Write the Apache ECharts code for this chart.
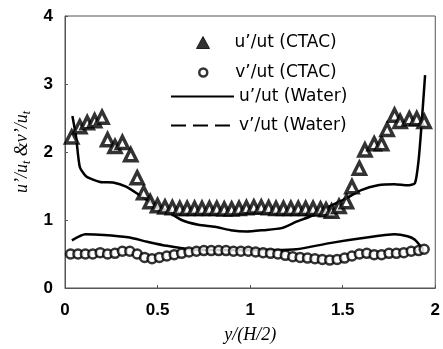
<!DOCTYPE html>
<html>
<head>
<meta charset="utf-8">
<script src="https://cdn.jsdelivr.net/npm/echarts@6/dist/echarts.min.js"></script>
<style>
  html, body { margin: 0; padding: 0; background: #fff; }
  #chart { width: 443px; height: 349px; }
</style>
</head>
<body>
<div id="chart"></div>
<script>
// u'/ut (CTAC) - triangles
const uCtacX = [0.036, 0.08, 0.12, 0.16, 0.20, 0.23, 0.27, 0.31, 0.355, 0.39, 0.425, 0.46,
  0.50, 0.54, 0.58, 0.62, 0.66, 0.70, 0.74, 0.78, 0.82, 0.86, 0.90, 0.94, 0.98, 1.02,
  1.06, 1.10, 1.14, 1.18, 1.22, 1.26, 1.30, 1.34, 1.38, 1.41, 1.44, 1.48, 1.52, 1.55,
  1.59, 1.62, 1.67, 1.71, 1.74, 1.78, 1.81, 1.86, 1.90, 1.94];
const uCtacY = [2.22, 2.37, 2.43, 2.46, 2.51, 2.18, 2.08, 2.14, 1.96, 1.62, 1.40, 1.27,
  1.21, 1.19, 1.18, 1.17, 1.17, 1.17, 1.17, 1.17, 1.17, 1.16, 1.16, 1.17, 1.18, 1.19,
  1.19, 1.18, 1.17, 1.17, 1.17, 1.17, 1.17, 1.17, 1.16, 1.15, 1.13, 1.20, 1.27, 1.49,
  1.76, 2.03, 2.12, 2.12, 2.33, 2.54, 2.45, 2.49, 2.49, 2.45];

// v'/ut (CTAC) - circles
const vCtacX = [0.03, 0.07, 0.11, 0.15, 0.19, 0.23, 0.27, 0.31, 0.35, 0.39, 0.43, 0.47,
  0.51, 0.55, 0.59, 0.63, 0.67, 0.71, 0.75, 0.79, 0.83, 0.87, 0.91, 0.95, 0.99, 1.03,
  1.07, 1.11, 1.15, 1.19, 1.23, 1.27, 1.31, 1.35, 1.39, 1.43, 1.47, 1.51, 1.55, 1.59,
  1.63, 1.67, 1.71, 1.75, 1.79, 1.83, 1.87, 1.91, 1.94];
const vCtacY = [0.50, 0.50, 0.50, 0.50, 0.52, 0.50, 0.51, 0.54, 0.54, 0.50, 0.45, 0.43,
  0.45, 0.47, 0.49, 0.51, 0.53, 0.54, 0.55, 0.55, 0.55, 0.55, 0.54, 0.54, 0.54, 0.53,
  0.52, 0.51, 0.50, 0.48, 0.46, 0.45, 0.44, 0.43, 0.42, 0.41, 0.42, 0.44, 0.47, 0.50,
  0.51, 0.49, 0.49, 0.51, 0.51, 0.52, 0.54, 0.55, 0.57];

// u'/ut (Water) - solid line
const uWaterX = [0.04, 0.06, 0.08, 0.115, 0.19, 0.26, 0.33, 0.40, 0.47, 0.54, 0.63, 0.72,
  0.81, 0.895, 0.98, 1.07, 1.17, 1.25, 1.34, 1.43, 1.52, 1.60, 1.69, 1.78, 1.85, 1.89,
  1.91, 1.925, 1.945];
const uWaterY = [2.53, 2.22, 1.78, 1.64, 1.56, 1.55, 1.49, 1.37, 1.25, 1.15, 1.00, 0.93,
  0.90, 0.85, 0.83, 0.85, 0.88, 0.975, 1.07, 1.20, 1.32, 1.44, 1.51, 1.525, 1.51, 1.54,
  1.88, 2.37, 3.13];

// v'/ut (Water) - line
const vWaterX = [0.037, 0.11, 0.21, 0.34, 0.445, 0.55, 0.68, 0.81, 0.98, 1.13, 1.25,
  1.43, 1.60, 1.78, 1.85, 1.89, 1.93];
const vWaterY = [0.70, 0.79, 0.78, 0.745, 0.68, 0.62, 0.57, 0.56, 0.56, 0.56, 0.57,
  0.66, 0.73, 0.79, 0.76, 0.71, 0.58];

const xTicks = ["0", "0.5", "1", "1.5", "2"];

const pairs = (xs, ys) => xs.map((x, i) => [x, ys[i]]);

const chart = echarts.init(document.getElementById("chart"));

const legendText = {
  fontFamily: "DejaVu Sans",
  fontSize: 17,
  color: "#000",
};

const option = {
  animation: false,
  grid: {
    left: 65,
    right: 2,
    top: 16,
    bottom: 61,
    show: true,
    borderColor: "#555",
    borderWidth: 1,
  },
  legend: [
    {
      data: [{ name: "u’/ut (CTAC)", itemStyle: { color: "#000", borderWidth: 1 } }],
      left: 191,
      top: 29,
      itemWidth: 13,
      itemHeight: 12,
      textStyle: Object.assign({ padding: [0, 0, 0, 20] }, legendText),
    },
    {
      data: [{ name: "v’/ut (CTAC)", itemStyle: { borderWidth: 2.5 } }],
      left: 193,
      top: 59,
      itemWidth: 8,
      itemHeight: 8,
      textStyle: Object.assign({ padding: [0, 0, 0, 23] }, legendText),
    },
    {
      data: [{ name: "u’/ut (Water)", itemStyle: { opacity: 0 } }],
      left: 165,
      top: 83,
      itemWidth: 63,
      itemHeight: 14,
      textStyle: legendText,
    },
    {
      data: [{
        name: "v’/ut (Water)",
        itemStyle: { opacity: 0 },
        lineStyle: { type: [15, 7] },
      }],
      left: 165,
      top: 112,
      itemWidth: 63,
      itemHeight: 14,
      textStyle: legendText,
    },
  ],
  xAxis: {
    type: "value",
    min: 0,
    max: 2,
    interval: 0.5,
    name: "y/(H/2)",
    nameLocation: "middle",
    nameGap: 38,
    nameTextStyle: {
      fontFamily: "Liberation Serif",
      fontStyle: "italic",
      fontSize: 18,
      color: "#000",
    },
    axisLine: { show: true, lineStyle: { color: "#555", width: 1 } },
    axisTick: { show: true, inside: true, length: 3, lineStyle: { color: "#555" } },
    splitLine: { show: false },
    axisLabel: {
      margin: 14,
      fontFamily: "Liberation Sans",
      fontWeight: "bold",
      fontSize: 17,
      color: "#000",
      formatter: (v) => xTicks[Math.round(v / 0.5)],
    },
  },
  yAxis: {
    type: "value",
    min: 0,
    max: 4,
    interval: 1,
    name: "{i|u’/u}{s|t}{i| &v’/u}{s|t}",
    nameLocation: "middle",
    nameGap: 32,
    nameTextStyle: {
      rich: {
        i: {
          fontFamily: "Liberation Serif",
          fontStyle: "italic",
          fontSize: 18,
          color: "#000",
        },
        s: {
          fontFamily: "Liberation Serif",
          fontStyle: "italic",
          fontSize: 12,
          color: "#000",
          verticalAlign: "bottom",
          padding: [8, 0, 0, 0],
        },
      },
    },
    axisLine: { show: true, lineStyle: { color: "#555", width: 1 } },
    axisTick: { show: true, inside: true, length: 3, lineStyle: { color: "#555" } },
    splitLine: { show: false },
    axisLabel: {
      margin: 12,
      fontFamily: "Liberation Sans",
      fontWeight: "bold",
      fontSize: 17,
      color: "#000",
    },
  },
  series: [
    {
      name: "u’/ut (CTAC)",
      type: "scatter",
      symbol: "triangle",
      symbolSize: 12,
      itemStyle: { color: "#fff", borderColor: "#000", borderWidth: 3.5 },
      data: pairs(uCtacX, uCtacY),
      z: 3,
    },
    {
      name: "v’/ut (CTAC)",
      type: "scatter",
      symbol: "circle",
      symbolSize: 9,
      itemStyle: { color: "#fff", borderColor: "#000", borderWidth: 2.5 },
      data: pairs(vCtacX, vCtacY),
      z: 3,
    },
    {
      name: "u’/ut (Water)",
      type: "line",
      symbol: "none",
      smooth: 0.2,
      lineStyle: { color: "#000", width: 2.5 },
      itemStyle: { color: "#000" },
      data: pairs(uWaterX, uWaterY),
      z: 2,
    },
    {
      name: "v’/ut (Water)",
      type: "line",
      symbol: "none",
      smooth: 0.2,
      lineStyle: { color: "#000", width: 2.5 },
      itemStyle: { color: "#000" },
      data: pairs(vWaterX, vWaterY),
      z: 2,
    },
  ],
};

chart.setOption(option);
</script>
</body>
</html>
